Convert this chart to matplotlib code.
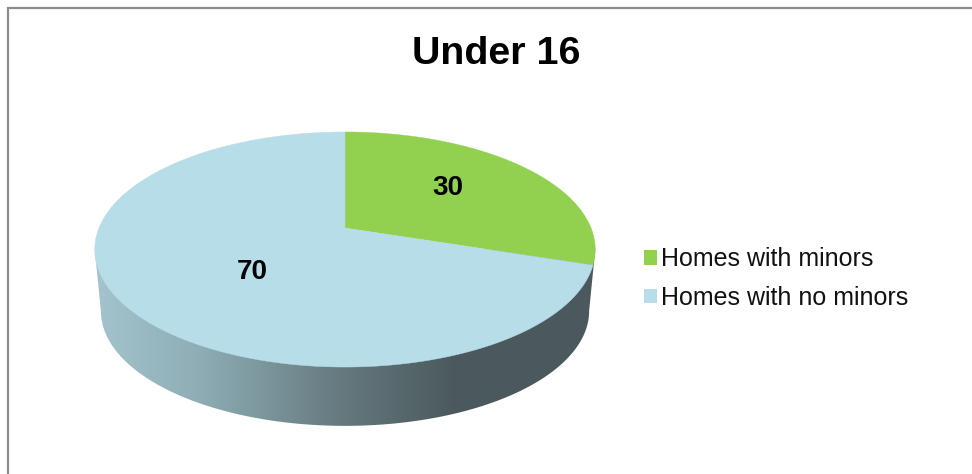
import numpy as np
import matplotlib
matplotlib.use("Agg")
import matplotlib.pyplot as plt
from matplotlib.colors import LinearSegmentedColormap
from matplotlib.patches import Polygon, Rectangle

title = "Under 16"
categories = ["Homes with minors", "Homes with no minors"]
values = [30, 70]
colors = ["#92d050", "#b7dde8"]

plt.rcParams["font.family"] = ["Liberation Sans", "DejaVu Sans"]
W, H = 972, 474
fig = plt.figure(figsize=(W / 100, H / 100), dpi=100)
ax = fig.add_axes([0, 0, 1, 1])
ax.set_xlim(0, W)
ax.set_ylim(H, 0)
ax.axis("off")

# chart-area frame: only top and left edges are visible in the crop
ax.plot([W, 8, 8], [8, 8, H], color="#8c8c8c", lw=1.6, solid_joinstyle="miter")

# perspective projection of the pie disc
CX, PERSP = 345.0, 0.183


def rim(theta, a, b, y0, r=1.0):
    u, v = r * np.sin(theta), -r * np.cos(theta)
    d = 1 - PERSP * v
    return CX + a * u / d, y0 + b * v / d


TOP = (246.0, 113.6, 228.0)
LOW = (240.0, 111.0, 290.0)

# side wall with horizontal gradient; runs between the widest points of the rims
T0 = np.pi - np.arccos(PERSP)
T1 = 2 * np.pi - T0
t = np.linspace(T0, T1, 300)
lx, ly = rim(t, *LOW)
tr = rim(T0, *TOP)
tl = rim(T1, *TOP)
wall = Polygon(np.column_stack([np.r_[tr[0], lx, tl[0]], np.r_[tr[1], ly, tl[1]]]),
               closed=True, transform=ax.transData, fc="none", ec="none")
ax.add_patch(wall)
stops = [(0.00, "#a3c3ce"), (0.21, "#8eadb5"), (0.50, "#64787d"),
         (0.72, "#4b595d"), (1.00, "#4b595d")]
cmap = LinearSegmentedColormap.from_list("side", stops)
im = ax.imshow(np.linspace(0, 1, 512)[None, :], cmap=cmap, aspect="auto",
               extent=[95, 595, 430, 240], zorder=1)
im.set_clip_path(wall)
ax.set_xlim(0, W)
ax.set_ylim(H, 0)

# top face: slices start at 12 o'clock and run clockwise
frac = np.cumsum([0] + values) / sum(values)
for f0, f1, c in zip(frac[:-1], frac[1:], colors):
    th = np.linspace(f0, f1, 300) * 2 * np.pi
    x, y = rim(th, *TOP)
    ax.fill(np.r_[CX, x], np.r_[TOP[2], y], color=c, lw=0.3, zorder=2)

ax.text(448, 188, str(values[0]), fontsize=20, fontweight="bold", ha="center", va="center", zorder=3)
ax.text(252, 272, str(values[1]), fontsize=20, fontweight="bold", ha="center", va="center", zorder=3)
ax.text(496, 54, title, fontsize=28.4, fontweight="bold", ha="center", va="center")

handles = [Rectangle((0, 0), 1, 1, fc=c, ec="none") for c in colors]
ax.legend(handles, categories, loc="upper left", bbox_to_anchor=(644 / W, 1 - 247.5 / H),
          frameon=False, fontsize=18, borderpad=0, borderaxespad=0,
          handlelength=0.52, handleheight=0.52, handletextpad=0.17, labelspacing=0.57,
          labelcolor="#111111")

fig.savefig("out.png", dpi=100, facecolor="white")
